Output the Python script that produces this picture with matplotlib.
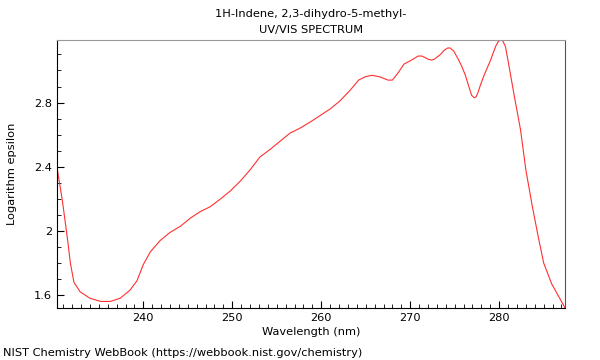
import matplotlib
matplotlib.use('Agg')
import matplotlib.pyplot as plt
from matplotlib.ticker import MultipleLocator

# spectrum
wavelength = [230.3, 230.9, 231.5, 231.8, 232.2, 232.9, 234.0, 235.2, 236.3, 237.4,
              238.5, 239.3, 240.0, 240.8, 241.9, 243.0, 244.2, 245.3, 246.4, 247.5,
              248.7, 249.8, 250.9, 252.0, 253.1, 254.3, 255.4, 256.5, 257.6, 258.8,
              259.9, 261.0, 262.1, 263.3, 264.2, 264.9, 265.7, 266.6, 267.5, 268.0,
              268.7, 269.3, 270.0, 270.6, 270.9, 271.3, 271.7, 272.0, 272.4, 272.7,
              273.4, 273.8, 274.2, 274.5, 274.9, 275.4, 275.8, 276.2, 276.7, 276.9,
              277.2, 277.4, 277.6, 277.9, 278.3, 279.0, 279.6, 279.9, 280.1, 280.4,
              280.7, 281.0, 281.7, 282.4, 283.0, 283.7, 284.4, 285.0, 285.9, 286.8,
              287.4]
log_eps = [2.395, 2.19, 1.94, 1.80, 1.68, 1.62, 1.58, 1.56, 1.56, 1.58,
           1.63, 1.69, 1.79, 1.87, 1.94, 1.99, 2.03, 2.08, 2.12, 2.15,
           2.20, 2.25, 2.31, 2.38, 2.46, 2.51, 2.56, 2.61, 2.64, 2.68,
           2.72, 2.76, 2.81, 2.88, 2.94, 2.96, 2.97, 2.96, 2.94, 2.94,
           2.99, 3.04, 3.06, 3.08, 3.09, 3.09, 3.08, 3.07, 3.065, 3.07,
           3.10, 3.125, 3.14, 3.14, 3.12, 3.07, 3.025, 2.97, 2.88, 2.845,
           2.83, 2.835, 2.86, 2.91, 2.97, 3.06, 3.15, 3.18, 3.19, 3.185,
           3.15, 3.06, 2.84, 2.63, 2.38, 2.16, 1.96, 1.80, 1.67, 1.58,
           1.52]

plt.rcParams['font.size'] = 8.2

fig = plt.figure(figsize=(6, 3.6), dpi=100)
ax = fig.add_axes([0.095, 0.1444, 0.8467, 0.7445])

ax.plot(wavelength, log_eps, color='#ff3030', linewidth=0.8)
ax.set_xlim(230.3, 287.4)
ax.set_ylim(1.519, 3.19)

ax.xaxis.set_major_locator(MultipleLocator(10))
ax.xaxis.set_minor_locator(MultipleLocator(1))
ax.yaxis.set_major_locator(MultipleLocator(0.4))
ax.yaxis.set_minor_locator(MultipleLocator(0.1))
ax.yaxis.set_major_formatter(plt.FuncFormatter(lambda v, p: f'{v:g}'))
ax.tick_params(which='both', direction='in', top=False, right=False, labelsize=8.2)
ax.tick_params(which='major', length=5)
ax.tick_params(which='minor', length=3)

ax.spines['top'].set_color('#999999')
ax.spines['right'].set_color('#555555')

ax.set_xlabel('Wavelength (nm)', labelpad=3)
ax.set_ylabel('Logarithm epsilon', labelpad=12)
ax.set_title('1H-Indene, 2,3-dihydro-5-methyl-\nUV/VIS SPECTRUM', fontsize=8.2,
             linespacing=1.8, pad=5)
fig.text(0.005, 0.012, 'NIST Chemistry WebBook (https://webbook.nist.gov/chemistry)')

fig.savefig('out.png', dpi=100)
